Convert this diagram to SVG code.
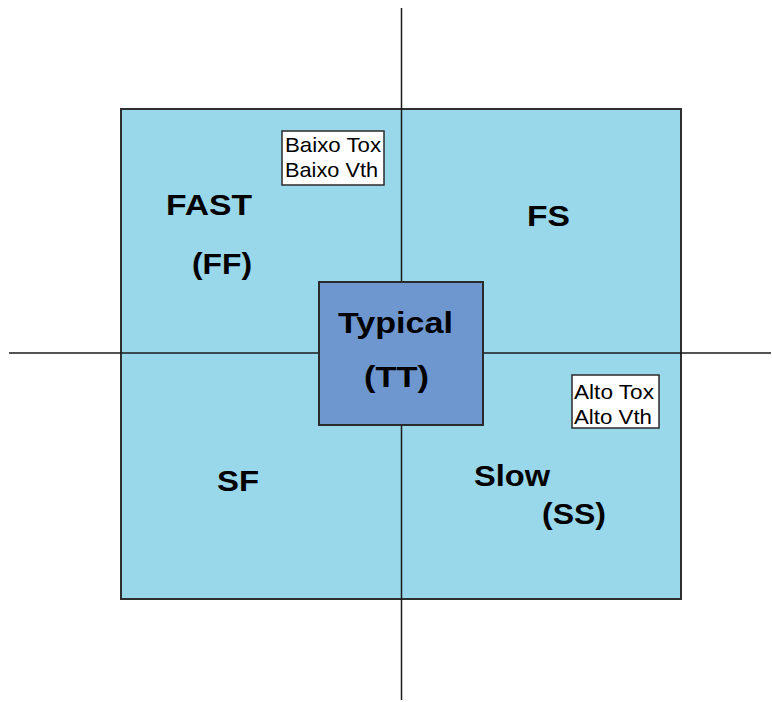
<svg xmlns="http://www.w3.org/2000/svg" width="772" height="702" viewBox="0 0 772 702">
  <style>
    .panel { fill: #99d8ea; stroke: #2e2e2e; stroke-width: 2; }
    .axis { stroke: #1a1a1a; stroke-width: 1.5; fill: none; }
    .core { fill: #6e97d0; stroke: #2a2a2a; stroke-width: 2; }
    .note { fill: #ffffff; stroke: #2a2a2a; stroke-width: 1.5; }
    .big { font-family: "Liberation Sans", Arial, sans-serif; font-weight: bold; font-size: 30px; fill: #000000; }
    .small { font-family: "Liberation Sans", Arial, sans-serif; font-size: 21px; fill: #000000; }
  </style>

  <rect width="772" height="702" fill="#ffffff"/>

  <g id="panel">
    <rect class="panel" x="121" y="109" width="560" height="490"/>
  </g>

  <g id="connectors">
    <line class="axis" x1="401.5" y1="8" x2="401.5" y2="700"/>
    <line class="axis" x1="9" y1="353" x2="771" y2="353"/>
  </g>

  <g id="ff">
    <text class="big" x="166" y="215" textLength="86" lengthAdjust="spacingAndGlyphs">FAST</text>
    <text class="big" x="192" y="274" textLength="60" lengthAdjust="spacingAndGlyphs">(FF)</text>
  </g>

  <g id="fs">
    <text class="big" x="527" y="226" textLength="43" lengthAdjust="spacingAndGlyphs">FS</text>
  </g>

  <g id="sf">
    <text class="big" x="217" y="491" textLength="42" lengthAdjust="spacingAndGlyphs">SF</text>
  </g>

  <g id="ss">
    <text class="big" x="474" y="486" textLength="76" lengthAdjust="spacingAndGlyphs">Slow</text>
    <text class="big" x="542" y="524" textLength="64" lengthAdjust="spacingAndGlyphs">(SS)</text>
  </g>

  <g id="tt">
    <rect class="core" x="319" y="282" width="164" height="143"/>
    <text class="big" x="338" y="333" font-size="32" textLength="115" lengthAdjust="spacingAndGlyphs">Typical</text>
    <text class="big" x="364" y="387" font-size="32" textLength="65" lengthAdjust="spacingAndGlyphs">(TT)</text>
  </g>

  <g id="low-tox">
    <rect class="note" x="282" y="131" width="102" height="54"/>
    <text class="small" x="285" y="152" textLength="96" lengthAdjust="spacingAndGlyphs">Baixo Tox</text>
    <text class="small" x="285" y="177" textLength="93" lengthAdjust="spacingAndGlyphs">Baixo Vth</text>
  </g>

  <g id="high-tox">
    <rect class="note" x="572" y="375" width="87" height="53"/>
    <text class="small" x="574" y="399" textLength="80" lengthAdjust="spacingAndGlyphs">Alto Tox</text>
    <text class="small" x="574" y="424" textLength="78" lengthAdjust="spacingAndGlyphs">Alto Vth</text>
  </g>
</svg>
